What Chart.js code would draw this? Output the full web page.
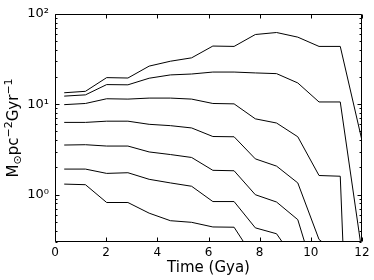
<!DOCTYPE html>
<html>
<head>
<meta charset="utf-8">
<script src="https://cdn.jsdelivr.net/npm/chart.js@4/dist/chart.umd.min.js"></script>
<style>
  body { margin: 0; background: #fff; }
  #box { width: 374px; height: 280px; }
</style>
</head>
<body>
<div id="box"><canvas id="myChart" width="374" height="280"></canvas></div>
<script>
// time points (Gya)
var times = [0.36, 1.19, 2.02, 2.85, 3.68, 4.51, 5.34, 6.17, 7.0, 7.83, 8.66, 9.49, 10.32, 11.15, 11.98];

// rate curves, top one first
var rate1 = [13.4, 13.9, 19.7, 19.5, 26.4, 29.9, 32.6, 44.0, 43.6, 59.0, 62.1, 55.2, 43.6, 43.6, 4.2];
var rate2 = [12.3, 12.7, 16.5, 16.4, 19.4, 21.1, 21.6, 22.7, 22.7, 22.2, 21.8, 17.2, 10.6, 10.6, 0.25];
var rate3 = [9.9, 10.2, 11.5, 11.4, 11.7, 11.7, 11.4, 10.2, 10.1, 6.9, 6.2, 4.37, 1.63, 1.60, 0.000002];
var rate4 = [6.3, 6.3, 6.5, 6.5, 6.0, 5.8, 5.47, 4.40, 4.37, 2.49, 2.07, 1.35, 0.32, 0.21, null];
var rate5 = [3.54, 3.57, 3.45, 3.45, 2.97, 2.78, 2.58, 1.86, 1.84, 1.0, 0.83, 0.53, 0.09, null, null];
var rate6 = [1.92, 1.92, 1.72, 1.75, 1.48, 1.35, 1.24, 0.84, 0.84, 0.43, 0.37, 0.17, null, null, null];
var rate7 = [1.31, 1.29, 0.82, 0.82, 0.625, 0.516, 0.495, 0.44, 0.437, 0.19, null, null, null, null, null];

// axis ticks
var xTicks = [0, 2, 4, 6, 8, 10, 12];
var yTicks = [1, 10, 100];
var yTickText = ['10\u2070', '10\u00b9', '10\u00b2'];

// y label pieces: text, shift (0 normal, 1 sub, -1 super)
var yLabelParts = [['M', 0], ['\u2299', 1], ['pc', 0], ['\u22122', -1], ['Gyr', 0], ['\u22121', -1]];

function toPoints(arr) {
  var pts = [];
  for (var i = 0; i < times.length; i++) {
    pts.push({ x: times[i], y: arr[i] });
  }
  return pts;
}

function lineSet(arr) {
  return {
    data: toPoints(arr),
    borderColor: '#000',
    borderWidth: 1,
    pointRadius: 0,
    tension: 0,
    fill: false,
    spanGaps: false
  };
}

// box round the plot + inward ticks on all four sides + y label
var framePlugin = {
  id: 'frame',
  afterDatasetsDraw: function(chart) {
    var ctx = chart.ctx;
    var a = chart.chartArea;
    var xs = chart.scales.x, ys = chart.scales.y;
    var L = Math.round(a.left) + 0.5, R = Math.round(a.right) - 0.5;
    var T = Math.round(a.top) + 0.5, B = Math.round(a.bottom) - 0.5;
    ctx.save();
    ctx.strokeStyle = '#000';
    ctx.lineWidth = 1;
    ctx.beginPath();
    ctx.rect(L, T, R - L, B - T);

    xTicks.forEach(function(v) {
      var px = Math.round(xs.getPixelForValue(v)) + 0.5;
      ctx.moveTo(px, B); ctx.lineTo(px, B - 4);
      ctx.moveTo(px, T); ctx.lineTo(px, T + 4);
    });

    yTicks.forEach(function(v) {
      var py = Math.round(ys.getPixelForValue(v)) + 0.5;
      ctx.moveTo(L, py); ctx.lineTo(L + 4, py);
      ctx.moveTo(R, py); ctx.lineTo(R - 4, py);
    });

    //minor log ticks
    for (var k = -1; k <= 1; k++) {
      for (var m = 2; m <= 9; m++) {
        var v = m * Math.pow(10, k);
        if (v < ys.min || v > ys.max) continue;
        var py = Math.round(ys.getPixelForValue(v)) + 0.5;
        ctx.moveTo(L, py); ctx.lineTo(L + 2, py);
        ctx.moveTo(R, py); ctx.lineTo(R - 2, py);
      }
    }
    ctx.stroke();

    //y axis label, rotated, with sub/superscripts
    var big = '15px "DejaVu Sans"', small = '11px "DejaVu Sans"';
    var total = 0;
    yLabelParts.forEach(function(p) {
      ctx.font = p[1] === 0 ? big : small;
      total += ctx.measureText(p[0]).width;
    });
    ctx.translate(18, (a.top + a.bottom) / 2);
    ctx.rotate(-Math.PI / 2);
    ctx.fillStyle = '#000';
    ctx.textBaseline = 'alphabetic';
    var pos = -total / 2;
    yLabelParts.forEach(function(p) {
      ctx.font = p[1] === 0 ? big : small;
      var dy = p[1] === 1 ? 3 : (p[1] === -1 ? -6 : 0);
      ctx.fillText(p[0], pos, dy);
      pos += ctx.measureText(p[0]).width;
    });
    ctx.restore();
  }
};

var ctx = document.getElementById('myChart').getContext('2d');
var chart = new Chart(ctx, {
  type: 'line',
  data: {
    datasets: [rate1, rate2, rate3, rate4, rate5, rate6, rate7].map(lineSet)
  },
  options: {
    responsive: false,
    animation: false,
    layout: { padding: { top: 12, right: 12, left: 0, bottom: 0 } },
    plugins: { legend: { display: false }, tooltip: { enabled: false } },
    scales: {
      x: {
        type: 'linear',
        min: 0,
        max: 12,
        grid: { display: false, drawTicks: false },
        border: { display: false },
        ticks: {
          stepSize: 2,
          color: '#000',
          padding: 4,
          font: { family: 'DejaVu Sans', size: 12 }
        },
        title: {
          display: true,
          text: 'Time (Gya)',
          color: '#000',
          padding: { top: 0, bottom: 3 },
          font: { family: 'DejaVu Sans', size: 15 }
        },
        afterFit: function(scale) { scale.height = 38; }
      },
      y: {
        type: 'logarithmic',
        min: 0.3,
        max: 100,
        grid: { display: false, drawTicks: false },
        border: { display: false },
        ticks: {
          autoSkip: false,
          color: '#000',
          padding: 6,
          font: { family: 'DejaVu Sans', size: 13 },
          callback: function(value) {
            var lg = Math.log10(value);
            var r = Math.round(lg);
            if (Math.abs(lg - r) > 1e-6) return '';
            var idx = yTicks.indexOf(Math.pow(10, r));
            return idx >= 0 ? yTickText[idx] : '';
          }
        },
        afterFit: function(scale) { scale.width = 55; }
      }
    }
  },
  plugins: [framePlugin]
});
</script>
</body>
</html>
